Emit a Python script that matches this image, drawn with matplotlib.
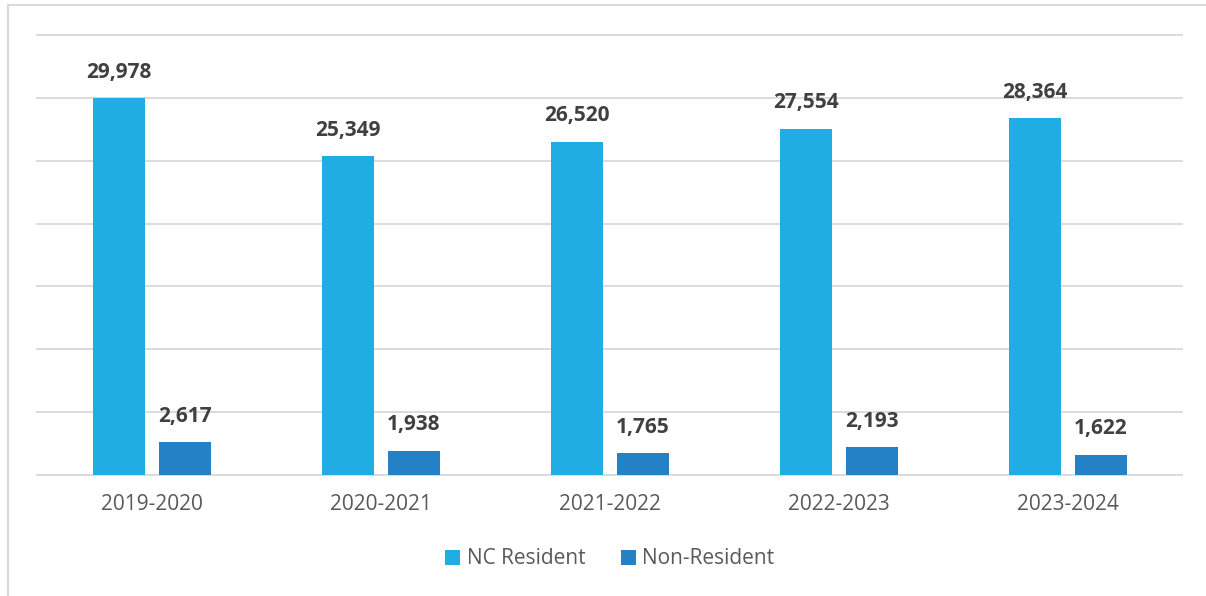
import numpy as np
import matplotlib.pyplot as plt
from matplotlib.patches import Rectangle

# Data
years = ["2019-2020", "2020-2021", "2021-2022", "2022-2023", "2023-2024"]
nc_resident = [29978, 25349, 26520, 27554, 28364]
non_resident = [2617, 1938, 1765, 2193, 1622]

plt.rcParams['font.family'] = ['Open Sans', 'DejaVu Sans']

fig = plt.figure(figsize=(12.06, 5.96), dpi=100)
ax = fig.add_axes([37 / 1206, 121 / 596, 1145 / 1206, 440 / 596])

x = np.arange(len(years))
w = 0.227
b1 = ax.bar(x - 0.142, nc_resident, w, color='#1FADE4', label='NC Resident', zorder=3)
b2 = ax.bar(x + 0.145, non_resident, w, color='#2581C6', label='Non-Resident', zorder=3)

for bars, vals in ((b1, nc_resident), (b2, non_resident)):
    for r, v in zip(bars, vals):
        ax.annotate(f"{v:,}", (r.get_x() + r.get_width() / 2, v),
                    xytext=(0, 11), textcoords='offset points',
                    ha='center', va='bottom', fontsize=15,
                    fontweight='bold', color='#404040')

ax.set_xlim(-0.5, len(years) - 0.5)
ax.set_ylim(0, 35000)
ax.set_yticks(np.arange(0, 35001, 5000))
ax.yaxis.grid(True, color='#D9D9D9', linewidth=1.3, zorder=0)
for gl in ax.get_ygridlines():
    gl.set_clip_on(False)
ax.tick_params(axis='y', length=0, labelleft=False)
ax.tick_params(axis='x', length=0, pad=14, labelsize=15, labelcolor='#595959')
ax.set_xticks(x)
ax.set_xticklabels(years)
for s in ax.spines.values():
    s.set_visible(False)

fig.legend(loc='center', bbox_to_anchor=(0.5055, 1 - 559 / 596), ncol=2,
           frameon=False, fontsize=15, labelcolor='#595959',
           handlelength=0.72, handleheight=0.72, handletextpad=0.3,
           columnspacing=1.7)

# light frame around the chart area
fig.patches.append(Rectangle((8 / 1206, -0.1), 1.2, 1 - 5 / 596 + 0.1,
                             transform=fig.transFigure, fill=False,
                             edgecolor='#D9D9D9', linewidth=1.5))

fig.savefig('out.png', dpi=100)
